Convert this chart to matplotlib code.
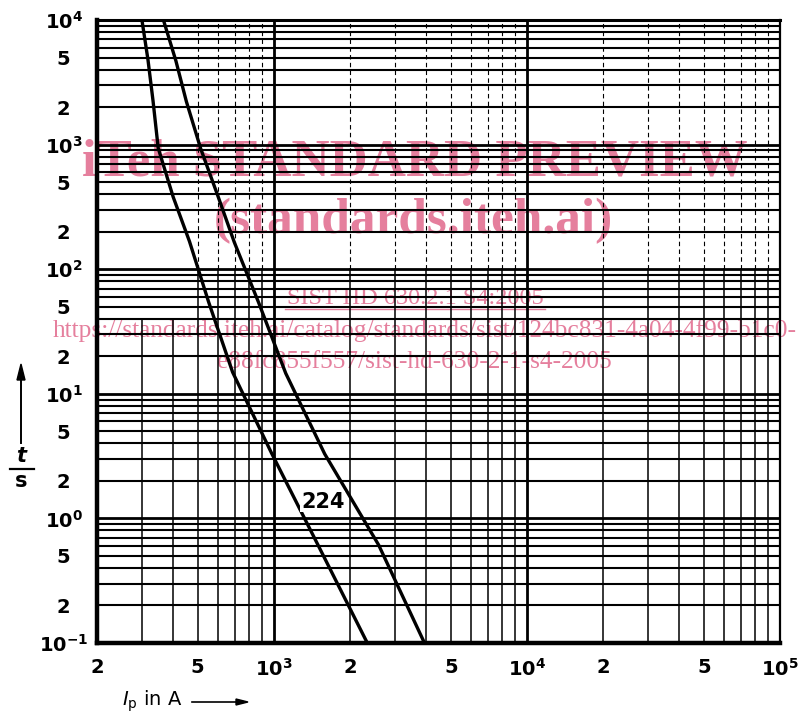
import numpy as np
import matplotlib.pyplot as plt

plt.rcParams['font.family'] = ['DejaVu Sans']
plt.rcParams['mathtext.fontset'] = 'dejavusans'
plt.rcParams['mathtext.default'] = 'bf'

# curve readings (current in A, time in s)
current_a = [301, 318, 333, 349, 400, 464, 552, 687, 979, 1486, 2340]
time_a = [1e4, 4800, 2244, 939, 380, 167, 54.7, 14.9, 3.34, 0.625, 0.1]
current_b = [366, 410, 451, 514, 600, 698, 871, 1114, 1588, 2594, 3937]
time_b = [1e4, 4700, 2218, 926, 390, 164, 53.8, 14.6, 3.29, 0.612, 0.1]
curve_label = '224'

x_ticks = [200, 500, 1e3, 2e3, 5e3, 1e4, 2e4, 5e4, 1e5]
x_labels = ['2', '5', '$10^3$', '2', '5', '$10^4$', '2', '5', '$10^5$']
y_ticks = [1e4, 5e3, 2e3, 1e3, 500, 200, 100, 50, 20, 10, 5, 2, 1, 0.5, 0.2, 0.1]
y_labels = ['$10^4$', '5', '2', '$10^3$', '5', '2', '$10^2$', '5', '2',
            '$10^1$', '5', '2', '$10^0$', '5', '2', '$10^{-1}$']

W, H = 805, 723
fig = plt.figure(figsize=(W / 100, H / 100), dpi=100)
ax = fig.add_axes([97 / W, 1 - 643 / H, (780 - 97) / W, (643 - 20) / H])
ax.patch.set_alpha(0)
ax.set_xscale('log')
ax.set_yscale('log')
ax.set_xlim(200, 1e5)
ax.set_ylim(0.1, 1e4)

# graph paper grid (minor verticals fade out in the upper part of the scan)
for dec in [1e2, 1e3, 1e4]:
    for m in range(1, 10):
        v = dec * m
        if not 200 <= v <= 1e5:
            continue
        if m == 1:
            ax.axvline(v, color='black', lw=2.0, zorder=1)
        elif v in (300, 400):
            ax.axvline(v, ymax=0.52, color='black', lw=1.1, zorder=1)
        else:
            ax.axvline(v, ymax=0.6, color='black', lw=1.1, zorder=1)
            ax.axvline(v, ymin=0.6, color='black', lw=0.8, ls=(0, (4, 3)),
                       zorder=1)
for dec in [0.1, 1, 10, 100, 1e3]:
    for m in range(1, 10):
        ax.axhline(dec * m, color='black', lw=2.0 if m == 1 else 1.5, zorder=1)

ax.plot(current_a, time_a, color='black', lw=2.4, zorder=3)
ax.plot(current_b, time_b, color='black', lw=2.4, zorder=3)
ax.text(1560, 1.36, curve_label, ha='center', va='center', fontsize=15,
        fontweight='bold', zorder=4,
        bbox=dict(facecolor='white', edgecolor='none', pad=0.5))

for side, lw in [('left', 3.2), ('bottom', 3.2), ('top', 2.2), ('right', 1.6)]:
    ax.spines[side].set_linewidth(lw)
    ax.spines[side].set_zorder(5)

ax.set_xticks(x_ticks)
ax.set_xticklabels(x_labels, fontweight='bold')
ax.set_yticks(y_ticks)
ax.set_yticklabels(y_labels, ha='center', fontweight='bold')
ax.xaxis.set_minor_locator(plt.NullLocator())
ax.yaxis.set_minor_locator(plt.NullLocator())
ax.tick_params(axis='both', length=0, labelsize=14)
ax.tick_params(axis='x', pad=11)
ax.tick_params(axis='y', pad=24)

# axis titles
fig.text(122 / W, 1 - 701 / H, r'$\mathit{I}_\mathrm{p}$ in A', fontsize=14,
         ha='left', va='center')
fig.add_artist(plt.Line2D([192 / W, 240 / W], [1 - 702 / H, 1 - 702 / H],
                          color='black', lw=1.2))
fig.add_artist(plt.Polygon([[236 / W, 1 - 699 / H], [248 / W, 1 - 702 / H],
                            [236 / W, 1 - 705 / H]], closed=True,
                           color='black'))

fig.add_artist(plt.Line2D([21 / W, 21 / W], [1 - 443 / H, 1 - 375 / H],
                          color='black', lw=1.4))
fig.add_artist(plt.Polygon([[17 / W, 1 - 380 / H], [21 / W, 1 - 364 / H],
                            [25 / W, 1 - 380 / H]], closed=True,
                           color='black'))
fig.text(21 / W, 1 - 456 / H, 't', fontsize=15, style='italic',
         fontweight='bold', ha='center', va='center')
fig.add_artist(plt.Line2D([10 / W, 34 / W], [1 - 469 / H, 1 - 469 / H],
                          color='black', lw=1.6))
fig.text(21 / W, 1 - 481 / H, 's', fontsize=15, fontweight='bold',
         ha='center', va='center')

# watermark
pink = '#e57f9d'
serif = ['Liberation Serif', 'DejaVu Serif']
fig.text(415 / W, 1 - 163 / H, 'iTeh STANDARD PREVIEW', color=pink,
         fontsize=38, fontweight='bold', family=serif, ha='center',
         va='center', zorder=-1)
fig.text(413 / W, 1 - 221 / H, '(standards.iteh.ai)', color=pink,
         fontsize=37, fontweight='bold', family=serif, ha='center',
         va='center', zorder=-1)
fig.text(415 / W, 1 - 298 / H, 'SIST HD 630.2.1 S4:2005', color=pink,
         fontsize=17.5, family=serif, ha='center', va='center', zorder=-1)
fig.add_artist(plt.Line2D([285 / W, 545 / W], [1 - 309 / H, 1 - 309 / H],
                          color=pink, lw=1.0, zorder=-1))
fig.text(425 / W, 1 - 331 / H,
         'https://standards.iteh.ai/catalog/standards/sist/124bc831-4a04-4f99-b1c0-',
         color=pink, fontsize=18.3, family=serif, ha='center', va='center',
         zorder=-1)
fig.text(414 / W, 1 - 362 / H, 'e88fc855f557/sist-hd-630-2-1-s4-2005',
         color=pink, fontsize=18.3, family=serif, ha='center', va='center',
         zorder=-1)

fig.savefig('out.png', dpi=100)
